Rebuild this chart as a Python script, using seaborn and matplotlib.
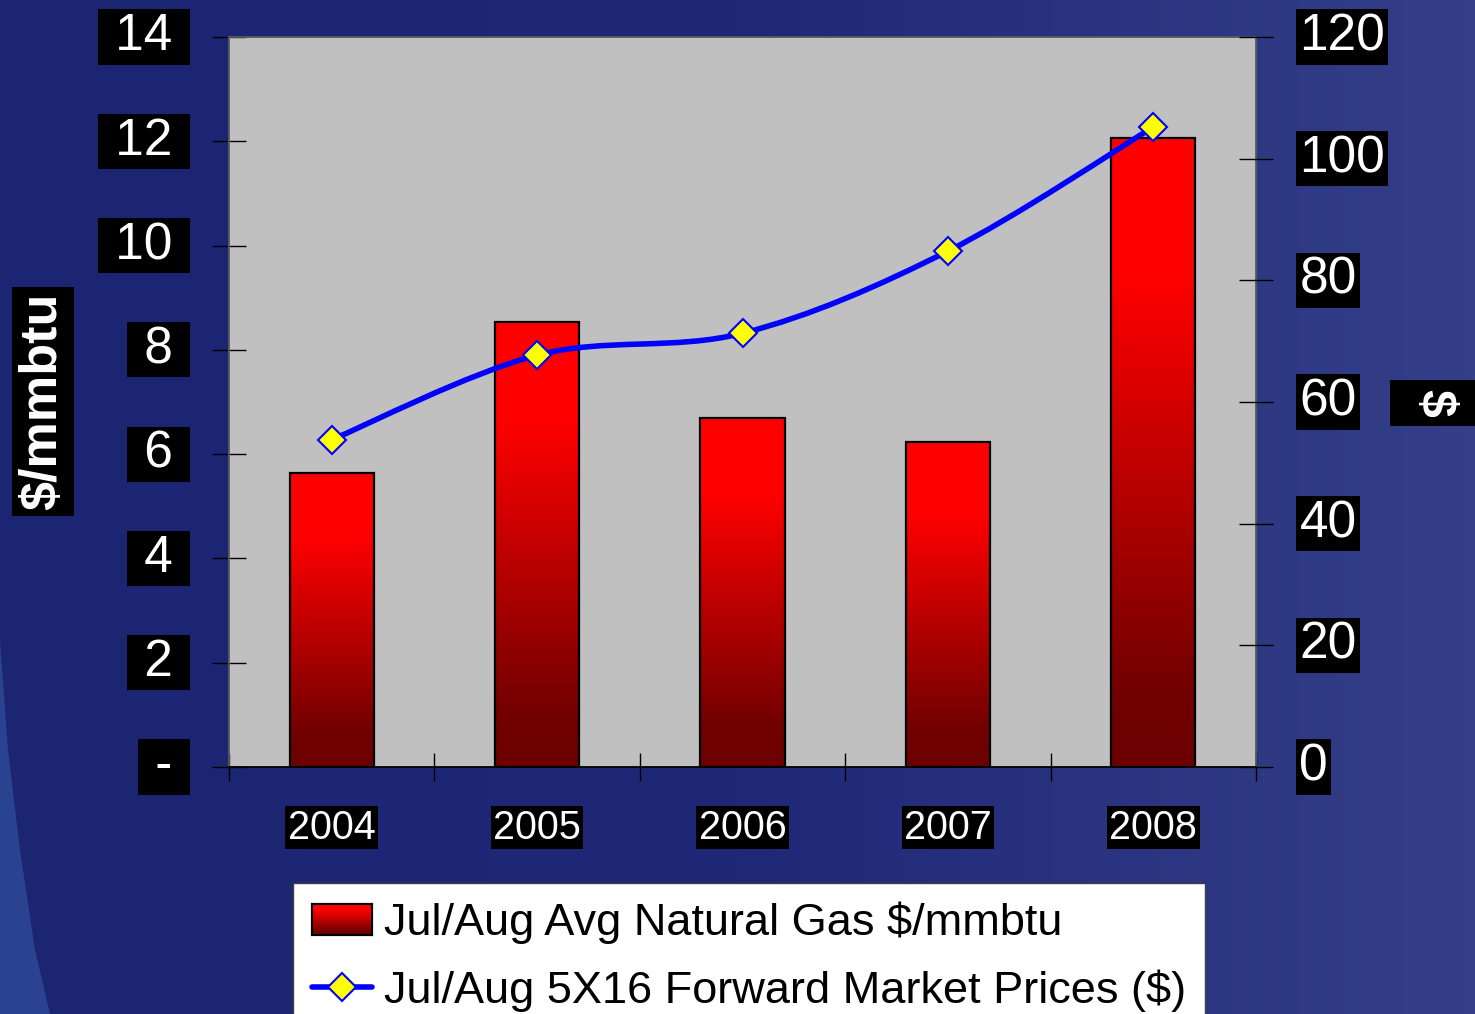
import numpy as np
import pandas as pd
import seaborn as sns
import matplotlib.pyplot as plt
from matplotlib.colors import LinearSegmentedColormap
from matplotlib.lines import Line2D
from matplotlib.patches import Patch, Rectangle, Polygon, PathPatch
from matplotlib.path import Path

years = ['2004', '2005', '2006', '2007', '2008']
gas_price = [5.64, 8.53, 6.69, 6.23, 12.06]
forward_price = [53.8, 67.7, 71.3, 84.8, 105.2]

left_ticks = [0, 2, 4, 6, 8, 10, 12, 14]
left_labels = ['-', '2', '4', '6', '8', '10', '12', '14']
right_ticks = [0, 20, 40, 60, 80, 100, 120]

bar_label = 'Jul/Aug Avg Natural Gas $/mmbtu'
line_label = 'Jul/Aug 5X16 Forward Market Prices ($)'

W, H = 1475, 1014


def px(x0, y0, x1, y1):
    # pixel box (top-left origin) -> figure fraction rect
    return [x0 / W, 1 - y1 / H, (x1 - x0) / W, (y1 - y0) / H]


def black_box(pad):
    return dict(facecolor='black', edgecolor='none', boxstyle=f'square,pad={pad}')


sns.set_theme(style='white')
plt.rcParams['font.family'] = ['Liberation Sans', 'DejaVu Sans']

fig = plt.figure(figsize=(W / 100, H / 100), dpi=100)

# background
bg = fig.add_axes([0, 0, 1, 1], zorder=-10)
bg_cmap = LinearSegmentedColormap.from_list('bg', ['#1c2572', '#1f2877', '#343f88'])
bg.imshow(np.linspace(0, 1, 256)[None, :], cmap=bg_cmap, aspect='auto', extent=[0, 1, 0, 1])
swoosh = [(0, 640), (8, 750), (20, 850), (35, 950), (50, 1014), (0, 1014)]
bg.add_patch(Polygon([(x / W, 1 - y / H) for x, y in swoosh], closed=True,
                     facecolor='#2a4390', edgecolor='none'))
bg.set_xlim(0, 1)
bg.set_ylim(0, 1)
bg.set_axis_off()

# bars
ax = fig.add_axes(px(229, 37, 1256, 767))
ax.set_facecolor('#c0c0c0')
df = pd.DataFrame({'year': years, 'gas': gas_price})
sns.barplot(data=df, x='year', y='gas', ax=ax, width=0.41, color='red',
            edgecolor='black', linewidth=1.6, saturation=1)

bar_cmap = LinearSegmentedColormap.from_list(
    'bar', [(0, '#6c0000'), (0.12, '#720000'), (0.78, '#ff0000'), (1, '#ff0000')])
grad = np.linspace(0, 1, 256).reshape(-1, 1)
for bar in ax.patches:
    x0, y0 = bar.get_x(), bar.get_y()
    w, h = bar.get_width(), bar.get_height()
    im = ax.imshow(grad, cmap=bar_cmap, origin='lower', aspect='auto',
                   extent=[x0, x0 + w, y0, y0 + h], zorder=0.9)
    im.set_clip_path(bar)
    bar.set_facecolor('none')

ax.set_xlim(-0.5, len(years) - 0.5)
ax.set_ylim(0, 14)
ax.set_xlabel('')
ax.set_ylabel('')

ax.set_yticks(left_ticks, [f' {t} ' for t in left_labels])
ax.tick_params(axis='y', which='major', left=True, direction='inout', length=24.5,
               width=1, color='black', labelcolor='white', labelsize=37, pad=18.2)
for lab in ax.get_yticklabels():
    lab.set_verticalalignment('center')
    lab.set_bbox(black_box(0.06))

ax.set_xticks(range(len(years)), years)
ax.set_xticks(np.arange(-0.5, len(years), 1), minor=True)
ax.tick_params(axis='x', which='major', bottom=True, length=0, pad=30,
               labelsize=28.5, labelcolor='white')
ax.tick_params(axis='x', which='minor', bottom=True, direction='inout', length=19.5,
               width=1, color='black')
for lab in ax.get_xticklabels():
    lab.set_bbox(black_box(0.06))

for side in ['left', 'right', 'top']:
    ax.spines[side].set_color('#5a5a5a')
    ax.spines[side].set_linewidth(1.3)
ax.spines['bottom'].set_color('black')
ax.spines['bottom'].set_linewidth(1.3)

# smoothed line on the right axis
ax2 = ax.twinx()
ax2.set_ylim(0, 120)
ax2.set_yticks(right_ticks, [str(t) for t in right_ticks])
ax2.tick_params(axis='y', which='major', right=True, direction='inout', length=24.5,
                width=1, color='black', labelcolor='white', labelsize=37, pad=19)
for lab in ax2.get_yticklabels():
    lab.set_verticalalignment('center')
    lab.set_bbox(black_box(0.06))
for side in ['left', 'right', 'top', 'bottom']:
    ax2.spines[side].set_visible(False)
ax2.grid(False)
ax.grid(False)

xs = np.arange(len(years), dtype=float)
pts = np.column_stack([xs, np.array(forward_price)])
ext = np.vstack([pts[0], pts, pts[-1]])
verts = [pts[0]]
codes = [Path.MOVETO]
for i in range(len(pts) - 1):
    p0, p1, p2, p3 = ext[i], ext[i + 1], ext[i + 2], ext[i + 3]
    verts += [p1 + (p2 - p0) / 6, p2 - (p3 - p1) / 6, p2]
    codes += [Path.CURVE4] * 3
ax2.add_patch(PathPatch(Path(verts, codes), facecolor='none', edgecolor='#0000ff',
                        lw=4, capstyle='round', joinstyle='round'))
ax2.plot(xs, forward_price, ls='none', marker='D', ms=14, mfc='yellow',
         mec='#0000ff', mew=1.5)

# axis titles
fig.text(43 / W, 1 - 401.5 / H, '$/mmbtu', rotation=90, ha='center', va='center',
         color='white', fontsize=37.5, fontweight='bold', bbox=black_box(0.12))
fig.add_artist(Rectangle((1390 / W, 1 - 426 / H), 85 / W, 46 / H,
                         transform=fig.transFigure, facecolor='black', edgecolor='none'))
fig.text(1434 / W, 1 - 403 / H, '$', rotation=-90, ha='center', va='center',
         color='white', fontsize=36, fontweight='bold')

# legend
handles = [Patch(facecolor='red', edgecolor='black', linewidth=1.5),
           Line2D([], [], color='#0000ff', lw=4, marker='D', ms=14, mfc='yellow',
                  mec='#0000ff', mew=1.5)]
leg = fig.legend(handles, [bar_label, line_label], loc='upper left',
                 bbox_to_anchor=(293 / W, 1 - 883 / H), borderaxespad=0, fontsize=32.5,
                 frameon=True, fancybox=False, edgecolor='#404040', facecolor='white',
                 framealpha=1, handlelength=1.32, handleheight=0.7, handletextpad=0.28,
                 borderpad=0.42, labelspacing=0.55, numpoints=1)
leg.get_frame().set_linewidth(1)
for t in leg.get_texts():
    t.set_color('black')

# gradient on the legend swatch
fig.canvas.draw()
sw = leg.get_patches()[0].get_window_extent()
sax = fig.add_axes([sw.x0 / W, sw.y0 / H, sw.width / W, sw.height / H], zorder=10)
sax.imshow(grad, cmap=bar_cmap, origin='lower', aspect='auto', extent=[0, 1, 0, 1])
sax.set_xticks([])
sax.set_yticks([])
for s in sax.spines.values():
    s.set_color('black')
    s.set_linewidth(1.5)

fig.savefig('out.png', dpi=100)
